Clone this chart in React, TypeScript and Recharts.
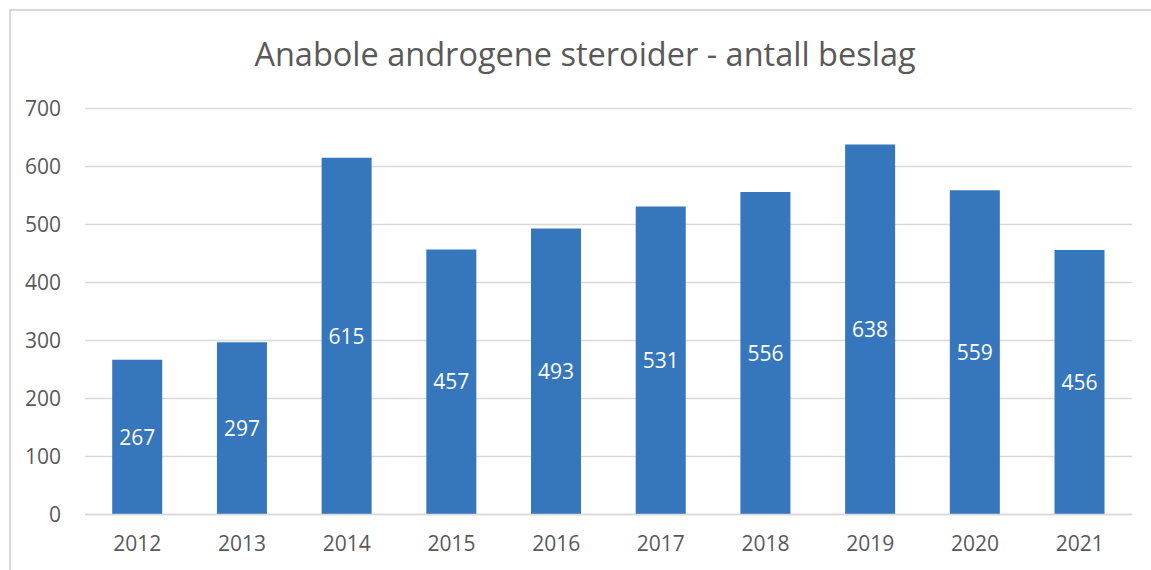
import React from "react";
import { BarChart, Bar, XAxis, YAxis, CartesianGrid, LabelList } from "recharts";

const years = ["2012", "2013", "2014", "2015", "2016", "2017", "2018", "2019", "2020", "2021"];
const seizures = [267, 297, 615, 457, 493, 531, 556, 638, 559, 456];
const yTicks = [0, 100, 200, 300, 400, 500, 600, 700];

const data = years.map((y, i) => ({ year: y, value: seizures[i] }));

const FONT = "'Open Sans', sans-serif";
const TEXT = "#595959";

export default function App() {
  return (
    <div style={{ position: "absolute", left: 0, top: 0, width: 1151, height: 570, background: "#fff", overflow: "hidden", fontFamily: FONT }}>
      <div style={{ position: "absolute", left: 9, top: 9, width: 1160, height: 600, border: "2px solid #d9d9d9", boxSizing: "border-box" }} />
      <div style={{ position: "absolute", left: 0, top: 32, width: 1170, textAlign: "center", fontSize: 32.5, color: TEXT, lineHeight: "44px" }}>
        Anabole androgene steroider - antall beslag
      </div>
      <div style={{ position: "absolute", left: 0, top: 0 }}>
        <BarChart width={1151} height={570} data={data} margin={{ top: 108.5, right: 19, bottom: 0, left: 0 }} barCategoryGap="26%">
          <CartesianGrid vertical={false} stroke="#d9d9d9" strokeWidth={1.5} />
          <XAxis
            dataKey="year"
            tickLine={false}
            axisLine={{ stroke: "#d9d9d9", strokeWidth: 1.5 }}
            tick={{ fill: TEXT, fontSize: 21, fontFamily: FONT }}
            tickMargin={16}
            height={55.5}
          />
          <YAxis
            domain={[0, 700]}
            ticks={yTicks}
            tickLine={false}
            axisLine={false}
            tick={{ fill: TEXT, fontSize: 21, fontFamily: FONT }}
            tickMargin={18}
            width={85}
            interval={0}
          />
          <Bar dataKey="value" fill="#3676bc" isAnimationActive={false}>
            <LabelList dataKey="value" position="center" fill="#ffffff" style={{ fontSize: 21, fontFamily: FONT }} />
          </Bar>
        </BarChart>
      </div>
    </div>
  );
}
